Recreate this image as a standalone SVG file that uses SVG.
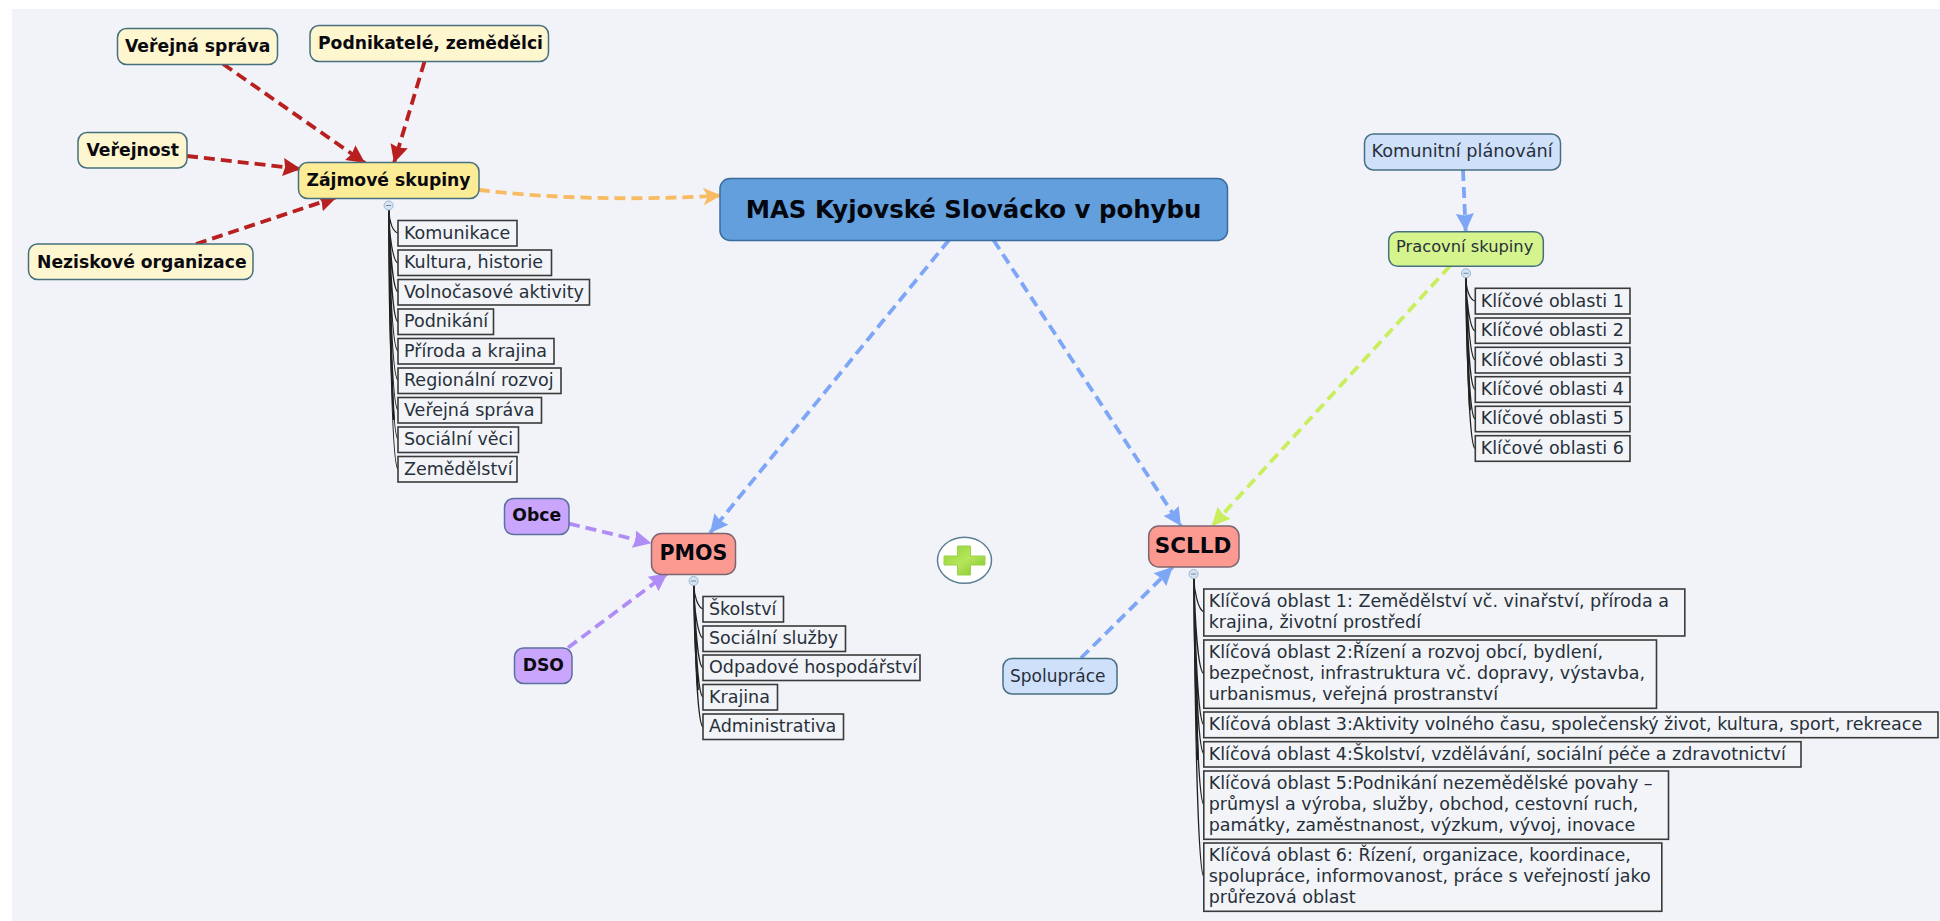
<svg xmlns="http://www.w3.org/2000/svg" width="1940" height="921" viewBox="0 0 1940 921">
<style>
text{font-family:"DejaVu Sans",Verdana,sans-serif;fill:#1a1f26}
.n{stroke:#47707f;stroke-width:1.5}
.b{font-weight:bold;font-size:17.200px;fill:#0a0a10}
.r{font-size:17px;fill:#27303a}
.c{fill:#f2f4f8;stroke:#3a3a3a;stroke-width:1.6}
.t{font-size:17.500px;fill:#27303a}
.y{fill:#fdf6cf}.z{fill:#fdec96}.p{fill:#c9a6fb;stroke:#5b6fa0;stroke-width:1.5}.s{fill:#fc9a92;stroke:#7d6670;stroke-width:1.5}.u{fill:#cfe0fb}.g{fill:#d6f48e}
.e{fill:none;stroke-width:3.8;stroke-dasharray:11 6}
.k{fill:none;stroke:#222;stroke-width:1.2}
.x{fill:none;stroke:#111;stroke-width:1.8}
.o{fill:#d5e3f3;stroke:#9cb5cf;stroke-width:1}
.m{stroke:#6f8aa6;stroke-width:1}
</style>
<defs>
<marker id="ar" markerUnits="userSpaceOnUse" markerWidth="20" markerHeight="20" refX="18" refY="10" orient="auto"><path d="M0 1L18 10L0 19L2 10Z" fill="#b8201f"/></marker>
<marker id="ab" markerUnits="userSpaceOnUse" markerWidth="20" markerHeight="20" refX="18" refY="10" orient="auto"><path d="M0 1L18 10L0 19L2 10Z" fill="#7ea6f6"/></marker>
<marker id="ag" markerUnits="userSpaceOnUse" markerWidth="20" markerHeight="20" refX="18" refY="10" orient="auto"><path d="M0 1L18 10L0 19L2 10Z" fill="#c9ee5e"/></marker>
<marker id="ap" markerUnits="userSpaceOnUse" markerWidth="20" markerHeight="20" refX="18" refY="10" orient="auto"><path d="M0 1L18 10L0 19L2 10Z" fill="#b08cf5"/></marker>
<marker id="ao" markerUnits="userSpaceOnUse" markerWidth="20" markerHeight="20" refX="18" refY="10" orient="auto"><path d="M0 1L18 10L0 19L5 10Z" fill="#f9bb62"/></marker>
<linearGradient id="gp" x1="0" y1="0" x2="1" y2="1"><stop offset="0" stop-color="#8fd03a"/><stop offset=".5" stop-color="#b6e65a"/><stop offset="1" stop-color="#7fc22a"/></linearGradient>
</defs>
<rect width="1940" height="921" fill="#fff"/>
<rect x="12" y="9" width="1928" height="912" fill="#f1f3f8"/>
<g id="connectors">
<path class="e" stroke="#b8201f" marker-end="url(#ar)" d="M223 64L365 163"/>
<path class="e" stroke="#b8201f" marker-end="url(#ar)" d="M424.500 61.500L394 163"/>
<path class="e" stroke="#b8201f" marker-end="url(#ar)" d="M187 156L301 169"/>
<path class="e" stroke="#b8201f" marker-end="url(#ar)" d="M196 244L337 197"/>
<path class="e" stroke="#f9bb62" marker-end="url(#ao)" d="M479 190Q590 203 721 195.500"/>
<path class="e" stroke="#7ea6f6" marker-end="url(#ab)" d="M949 240L710 533"/>
<path class="e" stroke="#7ea6f6" marker-end="url(#ab)" d="M993.500 240L1181 526"/>
<path class="e" stroke="#c9ee5e" marker-end="url(#ag)" d="M1450 266L1212 526"/>
<path class="e" stroke="#7ea6f6" marker-end="url(#ab)" d="M1463 170L1465.700 231.500"/>
<path class="e" stroke="#7ea6f6" marker-end="url(#ab)" d="M1081 658L1172.700 567"/>
<path class="e" stroke="#b08cf5" marker-end="url(#ap)" d="M569 523.700L651.400 543.300"/>
<path class="e" stroke="#b08cf5" marker-end="url(#ap)" d="M568 647.700L667.500 573.300"/>
<path class="x" d="M389 210C389 300 391 370 394 420"/>
<path class="x" d="M694 585C694 620 696 660 698 690"/>
<path class="x" d="M1466 277C1466 320 1468 370 1470 410"/>
<path class="x" d="M1194 578C1194 630 1196 700 1198 760"/>
<path class="k" d="M389 210C389 222 393 232 398 233M389 210C389 235 393 262 398 263M389 210C390 250 393 290 398 292M389 210C390 270 393 320 398 322M389 210C390 290 393 349 398 351M389 210C390 310 393 378 398 380M389 210C390 330 393 408 398 410M389 210C390 350 393 437 398 439M389 210C390 370 393 467 398 469"/>
<path class="k" d="M694 585C694 597 698 607 703 609M694 585C694 610 698 636 703 638.500M694 585C695 625 698 666 703 668M694 585C695 640 698 695 703 697M694 585C695 660 698 725 703 727"/>
<path class="k" d="M1466 277C1466 290 1470 300 1475 301M1466 277C1466 300 1470 329 1475 331M1466 277C1467 310 1470 358 1475 360M1466 277C1467 330 1470 388 1475 389.500M1466 277C1467 350 1470 417 1475 419M1466 277C1467 370 1470 446 1475 448.500"/>
<path class="k" d="M1194 578C1194 590 1198 610 1204 612M1194 578C1195 620 1198 672 1204 674M1194 578C1195 640 1198 723 1204 725M1194 578C1195 660 1198 752 1204 754M1194 578C1195 680 1198 803 1204 805M1194 578C1195 720 1198 875 1204 877"/>
</g>
<g id="verejna-sprava"><rect class="n y" x="117.500" y="28.500" width="160" height="36" rx="9"/><text class="b" x="125" y="52">Veřejná správa</text></g>
<g id="podnikatele"><rect class="n y" x="310" y="25.500" width="238.500" height="36" rx="9"/><text class="b" x="318" y="49">Podnikatelé, zemědělci</text></g>
<g id="verejnost"><rect class="n y" x="78" y="132.500" width="109" height="35.500" rx="9"/><text class="b" x="86.500" y="156">Veřejnost</text></g>
<g id="zajmove"><rect class="n z" x="298.500" y="162.500" width="180.500" height="36" rx="9"/><text class="b" x="306.500" y="186">Zájmové skupiny</text></g>
<g id="neziskove"><rect class="n y" x="28.500" y="244" width="224.500" height="35.500" rx="9"/><text class="b" x="37" y="267.500">Neziskové organizace</text></g>
<g id="zs-collapse"><circle class="o" cx="388.600" cy="205.500" r="4.500"/><path class="m" d="M386.100 205.500H391.100"/></g>
<g id="z1"><rect class="c" x="398" y="220.500" width="119" height="25.500"/><text class="t" x="404" y="238.500">Komunikace</text></g>
<g id="z2"><rect class="c" x="398" y="250" width="153.500" height="25.500"/><text class="t" x="404" y="268">Kultura, historie</text></g>
<g id="z3"><rect class="c" x="398" y="279.500" width="191.500" height="25.500"/><text class="t" x="404" y="297.500">Volnočasové aktivity</text></g>
<g id="z4"><rect class="c" x="398" y="309" width="95.500" height="25.500"/><text class="t" x="404" y="327">Podnikání</text></g>
<g id="z5"><rect class="c" x="398" y="338.500" width="156" height="25.500"/><text class="t" x="404" y="356.500">Příroda a krajina</text></g>
<g id="z6"><rect class="c" x="398" y="368" width="163" height="25.500"/><text class="t" x="404" y="386">Regionální rozvoj</text></g>
<g id="z7"><rect class="c" x="398" y="397.500" width="143.500" height="25.500"/><text class="t" x="404" y="415.500">Veřejná správa</text></g>
<g id="z8"><rect class="c" x="398" y="427" width="120.500" height="25.500"/><text class="t" x="404" y="445">Sociální věci</text></g>
<g id="z9"><rect class="c" x="398" y="456.500" width="119" height="25.500"/><text class="t" x="404" y="474.500">Zemědělství</text></g>
<g id="mas"><rect x="720" y="178.500" width="507.500" height="62" rx="10" fill="#639fdc" stroke="#3a6d9d" stroke-width="1.500"/><text x="973.500" y="218" text-anchor="middle" font-size="24.400" font-weight="bold" style="fill:#05070f">MAS Kyjovské Slovácko v pohybu</text></g>
<g id="obce"><rect class="p" x="504.500" y="498.500" width="64.500" height="36" rx="9"/><text class="b" x="536.700" y="521" text-anchor="middle">Obce</text></g>
<g id="dso"><rect class="p" x="514.500" y="648" width="57.500" height="35.500" rx="9"/><text class="b" x="543.300" y="671" text-anchor="middle">DSO</text></g>
<g id="pmos"><rect class="s" x="651.500" y="533.500" width="84" height="41" rx="10"/><text x="693.500" y="560" text-anchor="middle" font-size="20.600" font-weight="bold" style="fill:#05070f">PMOS</text></g>
<g id="pm-collapse"><circle class="o" cx="693.600" cy="581" r="4.500"/><path class="m" d="M691.100 581H696.100"/></g>
<g id="p1"><rect class="c" x="703" y="596.500" width="80.500" height="25.500"/><text class="t" x="709" y="614.500">Školství</text></g>
<g id="p2"><rect class="c" x="703" y="626" width="142.500" height="25.500"/><text class="t" x="709" y="644">Sociální služby</text></g>
<g id="p3"><rect class="c" x="703" y="655" width="217" height="25.500"/><text class="t" x="709" y="673">Odpadové hospodářství</text></g>
<g id="p4"><rect class="c" x="703" y="684.500" width="74.500" height="25.500"/><text class="t" x="709" y="702.500">Krajina</text></g>
<g id="p5"><rect class="c" x="703" y="714" width="140.500" height="25.500"/><text class="t" x="709" y="732">Administrativa</text></g>
<g id="plus"><ellipse cx="964.500" cy="560.300" rx="27" ry="23" fill="#fff" stroke="#5b7f92" stroke-width="1.500"/><path d="M957.500 546H970.500V556H985V565H970.500V575H957.500V565H944V556H957.500Z" fill="url(#gp)" stroke="#9ad24c" stroke-width="1" stroke-linejoin="round"/></g>
<g id="sclld"><rect class="s" x="1148.700" y="526" width="90.300" height="41" rx="10"/><text x="1193" y="553" text-anchor="middle" font-size="21.500" font-weight="bold" style="fill:#05070f">SCLLD</text></g>
<g id="sc-collapse"><circle class="o" cx="1193.600" cy="574" r="4.500"/><path class="m" d="M1191.100 574H1196.100"/></g>
<g id="spoluprace"><rect class="n u" x="1003" y="658.500" width="114" height="35.500" rx="9"/><text class="r" x="1010" y="681.500">Spolupráce</text></g>
<g id="k1"><rect class="c" x="1203.800" y="589" width="481" height="47"/><text class="t" x="1208.700" y="606.500">Klíčová oblast 1: Zemědělství vč. vinařství, příroda a</text><text class="t" x="1208.700" y="628">krajina, životní prostředí</text></g>
<g id="k2"><rect class="c" x="1203.800" y="640" width="452.700" height="68.300"/><text class="t" x="1208.700" y="657.500">Klíčová oblast 2:Řízení a rozvoj obcí, bydlení,</text><text class="t" x="1208.700" y="679">bezpečnost, infrastruktura vč. dopravy, výstavba,</text><text class="t" x="1208.700" y="700.300">urbanismus, veřejná prostranství</text></g>
<g id="k3"><rect class="c" x="1203.800" y="712" width="734.200" height="25.700"/><text class="t" x="1208.700" y="730">Klíčová oblast 3:Aktivity volného času, společenský život, kultura, sport, rekreace</text></g>
<g id="k4"><rect class="c" x="1203.800" y="741.700" width="597.200" height="25.300"/><text class="t" x="1208.700" y="759.500">Klíčová oblast 4:Školství, vzdělávání, sociální péče a zdravotnictví</text></g>
<g id="k5"><rect class="c" x="1203.800" y="771" width="464.700" height="68.300"/><text class="t" x="1208.700" y="788.500">Klíčová oblast 5:Podnikání nezemědělské povahy –</text><text class="t" x="1208.700" y="810">průmysl a výroba, služby, obchod, cestovní ruch,</text><text class="t" x="1208.700" y="831.300">památky, zaměstnanost, výzkum, vývoj, inovace</text></g>
<g id="k6"><rect class="c" x="1203.800" y="843" width="458" height="68.300"/><text class="t" x="1208.700" y="860.500">Klíčová oblast 6: Řízení, organizace, koordinace,</text><text class="t" x="1208.700" y="882">spolupráce, informovanost, práce s veřejností jako</text><text class="t" x="1208.700" y="903.300">průřezová oblast</text></g>
<g id="komunitni"><rect class="n u" x="1364.500" y="134" width="196" height="36" rx="9"/><text class="r" x="1371.500" y="157" style="font-size:17.700px">Komunitní plánování</text></g>
<g id="pracovni"><rect class="n g" x="1388.700" y="231.700" width="154.600" height="34.600" rx="9"/><text class="r" x="1396" y="252" style="font-size:16.300px">Pracovní skupiny</text></g>
<g id="pr-collapse"><circle class="o" cx="1466" cy="273.300" r="4.500"/><path class="m" d="M1463.500 273.300H1468.500"/></g>
<g id="c1"><rect class="c" x="1475.300" y="288.300" width="154.700" height="25.700"/><text class="t" x="1480.700" y="306.500">Klíčové oblasti 1</text></g>
<g id="c2"><rect class="c" x="1475.300" y="318" width="154.700" height="25.300"/><text class="t" x="1480.700" y="336">Klíčové oblasti 2</text></g>
<g id="c3"><rect class="c" x="1475.300" y="347.300" width="154.700" height="25.700"/><text class="t" x="1480.700" y="365.500">Klíčové oblasti 3</text></g>
<g id="c4"><rect class="c" x="1475.300" y="376.700" width="154.700" height="25.600"/><text class="t" x="1480.700" y="394.800">Klíčové oblasti 4</text></g>
<g id="c5"><rect class="c" x="1475.300" y="406.300" width="154.700" height="25.400"/><text class="t" x="1480.700" y="424.400">Klíčové oblasti 5</text></g>
<g id="c6"><rect class="c" x="1475.300" y="435.700" width="154.700" height="25.600"/><text class="t" x="1480.700" y="453.800">Klíčové oblasti 6</text></g>
</svg>
